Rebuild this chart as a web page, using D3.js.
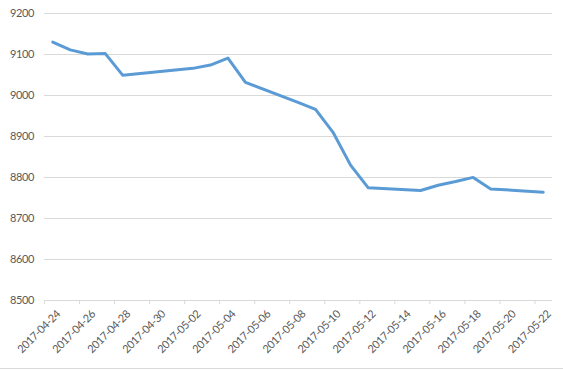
<!DOCTYPE html>
<html>
<head>
<meta charset="utf-8">
<script src="https://cdn.jsdelivr.net/npm/d3@7"></script>
<style>
  html, body { margin: 0; padding: 0; background: #fff; }
  svg { display: block; }
  text { font-family: Lato, "Open Sans", sans-serif; fill: #595959; letter-spacing: -0.4px; }
</style>
</head>
<body>
<svg id="chart" width="563" height="370"></svg>
<script>
// ---- data ----
const dates = ["2017-04-24","2017-04-25","2017-04-26","2017-04-27","2017-04-28",
               "2017-05-02","2017-05-03","2017-05-04","2017-05-05","2017-05-08",
               "2017-05-09","2017-05-10","2017-05-11","2017-05-12","2017-05-15",
               "2017-05-16","2017-05-17","2017-05-18","2017-05-19","2017-05-22"];
const values = [9129, 9110, 9100, 9101, 9048,
                9065, 9073, 9090, 9031, 8982,
                8965, 8909, 8829, 8774, 8767,
                8780, 8789, 8799, 8771, 8763];
const yTicks = [8500, 8600, 8700, 8800, 8900, 9000, 9100, 9200];
const xTickLabels = ["2017-04-24","2017-04-26","2017-04-28","2017-04-30","2017-05-02",
                     "2017-05-04","2017-05-06","2017-05-08","2017-05-10","2017-05-12",
                     "2017-05-14","2017-05-16","2017-05-18","2017-05-20","2017-05-22"];
const axisStart = "2017-04-24", axisEnd = "2017-05-23";

// ---- layout ----
const svg = d3.select("#chart");
const mLeft = 44, mRight = 552, mTop = 13, mBottom = 300;
const parse = d3.utcParse("%Y-%m-%d");
const DAY = 864e5;

const x = d3.scaleUtc().domain([parse(axisStart), parse(axisEnd)]).range([mLeft, mRight]);
const y = d3.scaleLinear().domain([8500, 9200]).range([mBottom, mTop]);
const halfDay = (x(new Date(parse(axisStart).getTime() + DAY)) - x(parse(axisStart))) / 2;

// gridlines + y labels
const yAxis = svg.append("g")
  .attr("transform", `translate(${mLeft},0)`)
  .call(d3.axisLeft(y).tickValues(yTicks).tickFormat(d3.format("d"))
        .tickSize(-(mRight - mLeft)).tickPadding(10));
yAxis.select(".domain").remove();
yAxis.selectAll(".tick line").attr("stroke", "#d9d9d9").attr("stroke-width", 1);
yAxis.selectAll(".tick text").attr("font-size", 11).style("fill", "#595959");

// x axis
const xAxis = svg.append("g")
  .attr("transform", `translate(0,${mBottom})`)
  .call(d3.axisBottom(x).tickValues(xTickLabels.map(parse))
        .tickFormat(d3.utcFormat("%Y-%m-%d")).tickSizeOuter(0).tickSizeInner(4));
xAxis.select(".domain").attr("stroke", "#d9d9d9").attr("d", `M${mLeft + 0.5},0.5H${mRight}`);
xAxis.selectAll(".tick line").attr("stroke", "#d9d9d9");
xAxis.selectAll(".tick text")
  .attr("font-size", 11)
  .style("fill", "#595959")
  .attr("text-anchor", "end")
  .attr("dy", "0.35em")
  .attr("y", 0)
  .attr("transform", `translate(${halfDay + 5},12) rotate(-45)`);

// line
const pts = dates.map((d, i) => ({ t: new Date(parse(d).getTime() + DAY / 2), v: values[i] }));
svg.append("path")
  .datum(pts)
  .attr("fill", "none")
  .attr("stroke", "#5b9bd5")
  .attr("stroke-width", 3)
  .attr("stroke-linejoin", "round")
  .attr("stroke-linecap", "round")
  .attr("d", d3.line().x(d => x(d.t)).y(d => y(d.v)));

// chart bottom border
svg.append("line").attr("x1", 0).attr("x2", 563).attr("y1", 368.5).attr("y2", 368.5)
  .attr("stroke", "#d9d9d9");
</script>
</body>
</html>
